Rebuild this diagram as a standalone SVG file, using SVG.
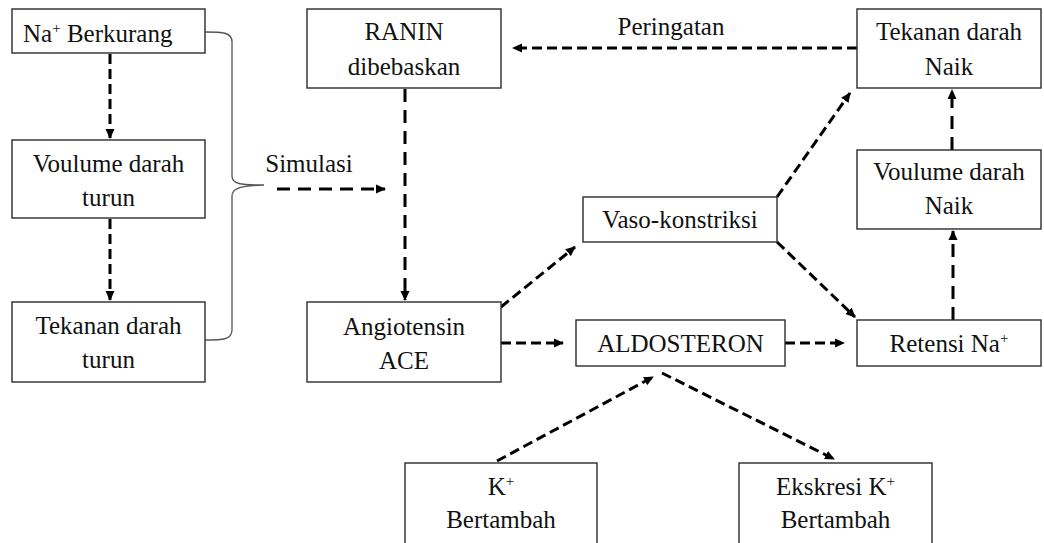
<svg xmlns="http://www.w3.org/2000/svg" width="1044" height="543" viewBox="0 0 1044 543">
<style>
.box{fill:#fff;stroke:#2b2b2b;stroke-width:1.4}
text{font-family:'Liberation Serif','Times New Roman',Tinos,'DejaVu Serif',serif;font-size:25px;fill:#111;text-anchor:middle}
.sup{font-size:15px}
.c{fill:none;stroke:#000;stroke-width:3;stroke-dasharray:10 5}
.cl{fill:none;stroke:#000;stroke-width:3;stroke-dasharray:13 8}
.brace{fill:none;stroke:#555;stroke-width:1.3}
</style>
<defs>
<marker id="ah" markerUnits="userSpaceOnUse" markerWidth="10" markerHeight="10" viewBox="0 0 10 10" refX="9" refY="5" orient="auto">
<path d="M0,0.5 L10,5 L0,9.5 z" fill="#000"/>
</marker>
</defs>
<rect width="1044" height="543" fill="#fff"/>
<g id="connectors">
<path class="c" d="M110,54 L110,138" marker-end="url(#ah)"/>
<path class="c" d="M110,219 L110,300" marker-end="url(#ah)"/>
<path class="cl" d="M277,189 L385,189" marker-end="url(#ah)"/>
<path class="cl" d="M405,89 L405,300" marker-end="url(#ah)"/>
<path class="c" d="M857,48 L513,48" marker-end="url(#ah)"/>
<path class="c" d="M501,307 L575,247" marker-end="url(#ah)"/>
<path class="c" d="M501,343 L563,343" marker-end="url(#ah)"/>
<path class="c" d="M777,197 L850,93" marker-end="url(#ah)"/>
<path class="c" d="M777,242 L855,317" marker-end="url(#ah)"/>
<path class="c" d="M785,343 L844,343" marker-end="url(#ah)"/>
<path class="cl" d="M953,320 L953,231" marker-end="url(#ah)"/>
<path class="cl" d="M952,150 L952,90" marker-end="url(#ah)"/>
<path class="c" d="M497,461 L653,377" marker-end="url(#ah)"/>
<path class="c" d="M662,373 L834,459" marker-end="url(#ah)"/>
<path class="brace" d="M205,32 C222,32 232,32 232,42 L232,176 C232,184 240,185 264,185 C240,186 232,188 232,196 L232,330 C232,340 222,340 205,340"/>
<text font-family="Liberation Serif, serif" x="309" y="172">Simulasi</text>
<text font-family="Liberation Serif, serif" x="671" y="35">Peringatan</text>
</g>
<g id="na-berkurang">
<rect class="box" x="12" y="9" width="193" height="44"/>
<text font-family="Liberation Serif, serif" x="23" y="42" style="text-anchor:start">Na<tspan class="sup" dy="-9">+</tspan><tspan dy="9"> Berkurang</tspan></text>
</g>
<g id="volume-turun">
<rect class="box" x="12" y="140" width="193" height="78"/>
<text x="108.5" y="172">Voulume darah</text>
<text x="108.5" y="206">turun</text>
</g>
<g id="tekanan-turun">
<rect class="box" x="12" y="302" width="193" height="80"/>
<text x="108.5" y="334">Tekanan darah</text>
<text x="108.5" y="368">turun</text>
</g>
<g id="ranin">
<rect class="box" x="307" y="9" width="194" height="79"/>
<text x="404" y="40">RANIN</text>
<text x="404" y="75">dibebaskan</text>
</g>
<g id="angiotensin">
<rect class="box" x="307" y="302" width="194" height="80"/>
<text x="404" y="335">Angiotensin</text>
<text x="404" y="369">ACE</text>
</g>
<g id="vaso">
<rect class="box" x="583" y="197" width="194" height="45"/>
<text x="680" y="228">Vaso-konstriksi</text>
</g>
<g id="aldosteron">
<rect class="box" x="576" y="320" width="209" height="46"/>
<text x="680.5" y="352">ALDOSTERON</text>
</g>
<g id="tekanan-naik">
<rect class="box" x="857" y="9" width="184" height="79"/>
<text x="949" y="40">Tekanan darah</text>
<text x="949" y="75">Naik</text>
</g>
<g id="volume-naik">
<rect class="box" x="857" y="150" width="184" height="79"/>
<text x="949" y="180">Voulume darah</text>
<text x="949" y="214">Naik</text>
</g>
<g id="retensi">
<rect class="box" x="857" y="320" width="184" height="46"/>
<text x="949" y="352">Retensi Na<tspan class="sup" dy="-9">+</tspan></text>
</g>
<g id="k-bertambah">
<rect class="box" x="405" y="463" width="192" height="90"/>
<text x="501" y="495">K<tspan class="sup" dy="-9">+</tspan></text>
<text x="501" y="528">Bertambah</text>
</g>
<g id="ekskresi">
<rect class="box" x="739" y="463" width="193" height="90"/>
<text x="835.5" y="495">Ekskresi K<tspan class="sup" dy="-9">+</tspan></text>
<text x="835.5" y="528">Bertambah</text>
</g>
</svg>
